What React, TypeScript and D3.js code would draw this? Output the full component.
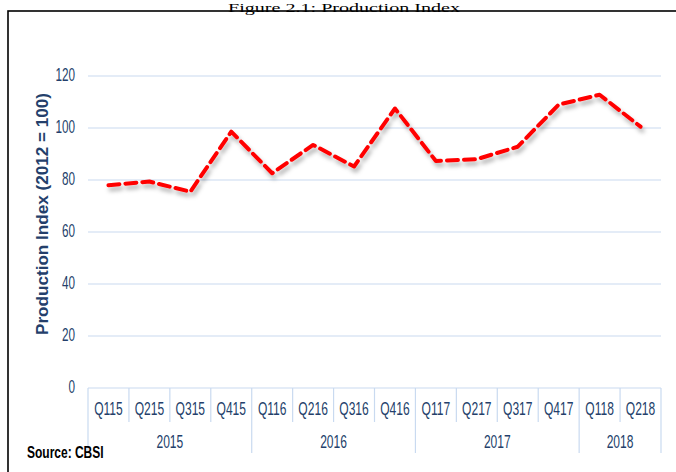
import React from "react";
import * as d3 from "d3";

const categories = ["Q115","Q215","Q315","Q415","Q116","Q216","Q316","Q416","Q117","Q217","Q317","Q417","Q118","Q218"];
const values = [78, 79.4, 75.5, 98.6, 82.6, 93.5, 85.2, 107.5, 87.3, 88, 92.8, 109, 112.8, 100.5];
const years = ["2015","2016","2017","2018"];
const yearCounts = [4, 4, 4, 2];
const yTicks = [0, 20, 40, 60, 80, 100, 120];

const W = 676, H = 472;
const left = 88, right = 661, top = 76, bottom = 388;
const textColor = "#243F6B";
const gridColor = "#C9DAF0";
const sans = "'Liberation Sans', Arial, sans-serif";

function NText(props: { x: number; y: number; anchor?: string; size?: number; bold?: boolean; fill?: string; sx?: number; children: React.ReactNode }) {
  const { x, y, anchor = "middle", size = 18, bold = false, fill = textColor, sx = 0.67, children } = props;
  return (
    <text transform={`translate(${x},${y}) scale(${sx},1)`} textAnchor={anchor} dy="0.35em" fontFamily={sans} fontSize={size} fontWeight={bold ? "bold" : "normal"} fill={fill}>{children}</text>
  );
}

export default function App() {
  const x = d3.scaleBand<string>().domain(categories).range([left, right]).padding(0);
  const y = d3.scaleLinear().domain([0, 120]).range([bottom, top]);
  const line = d3.line<number>()
    .x((_, i) => (x(categories[i]) as number) + x.bandwidth() / 2)
    .y(d => y(d))
    .curve(d3.curveLinear);

  const yearStarts: number[] = [];
  let acc = 0;
  yearCounts.forEach(c => { yearStarts.push(acc); acc += c; });

  return (
    <svg width={W} height={H} style={{ position: "absolute", left: 0, top: 0, background: "#fff" }}>
      <defs>
        <filter id="sh" x="-10%" y="-20%" width="120%" height="150%">
          <feDropShadow dx="2" dy="4" stdDeviation="2" floodColor="#000" floodOpacity="0.3" />
        </filter>
      </defs>
      <rect x={0} y={0} width={W} height={H} fill="#fff" />
      <rect x={8} y={11} width={W + 10} height={H + 10} fill="none" stroke="#000" strokeWidth={1.6} />
      <text x={344} y={12} textAnchor="middle" fontFamily="'Liberation Serif', 'DejaVu Serif', serif" fontSize={13} textLength={232} lengthAdjust="spacingAndGlyphs" fill="#000">Figure 2.1: Production Index</text>
      {yTicks.map(t => (
        <g key={t}>
          {t > 0 && <line x1={left} x2={right} y1={y(t)} y2={y(t)} stroke={gridColor} strokeWidth={1.2} />}
          <NText x={75} y={y(t) - 1} anchor="end" size={17.5}>{t}</NText>
        </g>
      ))}
      <line x1={left} x2={right} y1={bottom} y2={bottom} stroke={gridColor} strokeWidth={1.2} />
      {categories.map((c, i) => {
        const x0 = x(c) as number;
        const isYearStart = yearStarts.includes(i);
        return (
          <g key={c}>
            <line x1={x0} x2={x0} y1={bottom} y2={isYearStart ? 453 : 422} stroke={gridColor} strokeWidth={1.2} />
            <NText x={x0 + x.bandwidth() / 2} y={409}>{c}</NText>
          </g>
        );
      })}
      <line x1={right} x2={right} y1={bottom} y2={453} stroke={gridColor} strokeWidth={1.2} />
      {years.map((yr, k) => {
        const s = x(categories[yearStarts[k]]) as number;
        const e = s + x.bandwidth() * yearCounts[k];
        return <NText key={yr} x={(s + e) / 2} y={442}>{yr}</NText>;
      })}
      <text transform={`translate(42, 214) rotate(-90)`} textAnchor="middle" dy="0.35em" fontFamily={sans} fontWeight="bold" fontSize={16} textLength={242} lengthAdjust="spacingAndGlyphs" fill={textColor}>Production Index (2012 = 100)</text>
      <NText x={27} y={452} anchor="start" size={16} bold fill="#000" sx={0.75}>Source: CBSI</NText>
      <path d={line(values) || ""} fill="none" stroke="#FF0000" strokeWidth={4} strokeDasharray="11 6" strokeLinecap="round" strokeLinejoin="round" filter="url(#sh)" />
    </svg>
  );
}
